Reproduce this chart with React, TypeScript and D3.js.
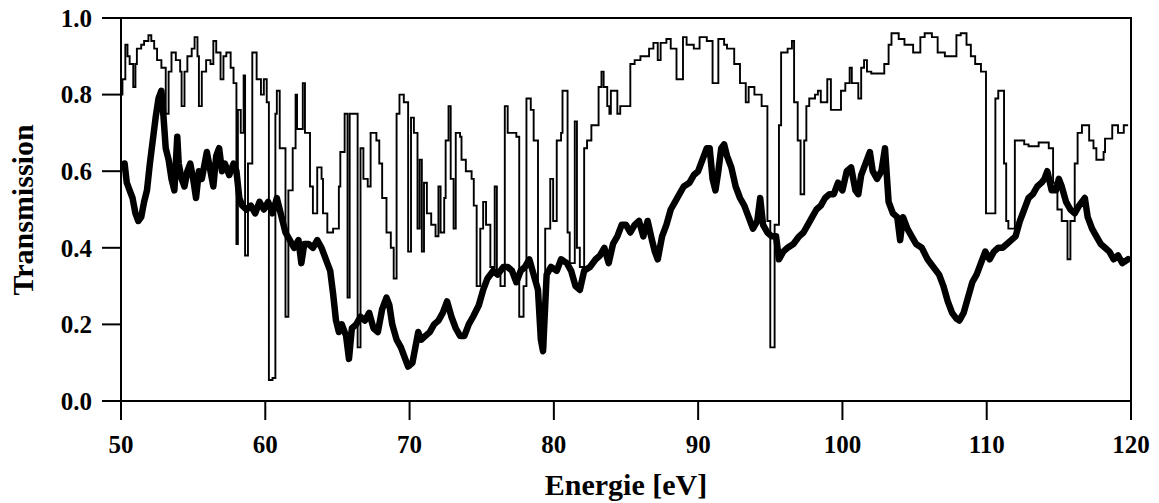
import React from "react";
import * as d3 from "d3";

const xTicks = [50, 60, 70, 80, 90, 100, 110, 120];
const yTicks = [0, 0.2, 0.4, 0.6, 0.8, 1.0];

// Thin curve (step) : energy [eV] and transmission
const thinE = [50.0,50.1,50.3,50.45,50.6,50.85,51.0,51.1,51.4,51.6,51.9,52.1,52.3,52.5,52.8,53.1,53.3,53.5,53.8,54.1,54.2,54.4,54.6,54.9,55.1,55.3,55.4,55.6,55.9,56.2,56.4,56.6,56.9,57.1,57.3,57.6,57.8,58.0,58.1,58.3,58.5,58.6,58.8,59.1,59.4,59.7,59.9,60.1,60.25,60.5,60.7,60.8,61.0,61.4,61.6,61.9,62.1,62.2,62.6,62.75,63.1,63.3,63.6,63.9,64.0,64.3,64.7,65.1,65.2,65.5,65.7,65.85,66.2,66.4,66.6,66.8,67.1,67.3,67.7,67.9,68.1,68.4,68.7,68.9,69.1,69.3,69.6,69.9,70.1,70.3,70.55,70.7,70.85,71.0,71.2,71.5,71.8,72.0,72.15,72.4,72.5,72.7,72.85,73.05,73.2,73.5,73.6,73.9,74.3,74.45,74.65,74.9,75.1,75.3,75.6,75.9,76.05,76.3,76.6,76.8,77.4,77.6,77.9,78.1,78.4,78.6,78.9,79.1,79.4,79.75,79.95,80.2,80.5,80.6,80.95,81.1,81.45,81.6,81.8,82.1,82.3,82.6,83.1,83.3,83.45,83.7,83.85,83.95,84.4,84.6,85.3,85.6,86.0,86.6,86.9,87.2,87.4,87.8,88.1,88.5,88.95,89.2,89.7,90.1,90.6,91.0,91.4,91.8,92.0,92.5,92.9,93.3,93.5,93.9,94.4,94.8,95.0,95.3,95.6,95.75,96.2,96.5,96.65,96.9,97.1,97.35,97.5,97.7,98.1,98.3,98.5,98.95,99.2,99.9,100.2,100.5,100.65,101.1,101.3,101.5,101.7,102.0,102.9,103.2,103.4,103.9,104.3,104.9,105.4,105.7,106.2,106.6,107.1,107.9,108.2,108.6,108.9,109.2,109.6,109.95,110.6,110.8,111.2,111.35,111.5,111.95,112.6,112.9,113.6,114.3,114.6,114.9,115.2,115.6,115.8,116.1,116.3,116.6,117.1,117.4,117.6,118.1,118.2,118.7,119.1,119.5,119.8];
const thinT = [0.80,0.84,0.93,0.90,0.88,0.82,0.88,0.92,0.93,0.94,0.955,0.94,0.92,0.89,0.87,0.75,0.86,0.91,0.89,0.86,0.77,0.86,0.90,0.92,0.95,0.90,0.77,0.86,0.89,0.88,0.94,0.91,0.84,0.90,0.91,0.87,0.83,0.41,0.76,0.70,0.85,0.38,0.62,0.91,0.84,0.80,0.84,0.78,0.055,0.06,0.75,0.81,0.66,0.22,0.55,0.66,0.80,0.71,0.83,0.70,0.56,0.49,0.61,0.58,0.49,0.44,0.45,0.56,0.65,0.75,0.27,0.75,0.75,0.14,0.66,0.58,0.56,0.70,0.68,0.62,0.53,0.44,0.40,0.32,0.75,0.80,0.78,0.39,0.74,0.70,0.45,0.63,0.39,0.57,0.49,0.46,0.43,0.56,0.44,0.53,0.68,0.77,0.58,0.45,0.70,0.69,0.63,0.60,0.58,0.51,0.30,0.45,0.52,0.46,0.35,0.56,0.34,0.30,0.77,0.70,0.69,0.22,0.30,0.79,0.76,0.68,0.20,0.14,0.45,0.58,0.47,0.68,0.70,0.81,0.44,0.36,0.73,0.40,0.35,0.66,0.68,0.72,0.82,0.86,0.82,0.77,0.75,0.81,0.75,0.77,0.88,0.89,0.90,0.92,0.935,0.89,0.935,0.945,0.92,0.84,0.95,0.93,0.92,0.95,0.94,0.83,0.945,0.93,0.92,0.88,0.83,0.78,0.82,0.80,0.77,0.47,0.14,0.46,0.72,0.91,0.92,0.94,0.78,0.68,0.54,0.68,0.77,0.79,0.80,0.81,0.78,0.84,0.76,0.81,0.83,0.87,0.83,0.79,0.87,0.89,0.86,0.855,0.88,0.93,0.96,0.945,0.93,0.91,0.95,0.96,0.95,0.91,0.90,0.955,0.96,0.93,0.90,0.88,0.86,0.49,0.79,0.81,0.62,0.47,0.45,0.68,0.67,0.665,0.675,0.66,0.57,0.50,0.47,0.37,0.47,0.62,0.70,0.72,0.68,0.66,0.63,0.65,0.685,0.72,0.70,0.72,0.72];

// Thick curve : energy [eV] and transmission
const thickE = [50.25,50.4,50.6,50.8,51.0,51.2,51.4,51.6,51.8,52.0,52.2,52.4,52.6,52.8,52.95,53.1,53.3,53.5,53.7,53.9,54.0,54.2,54.4,54.6,54.8,55.0,55.2,55.4,55.6,55.8,55.95,56.2,56.4,56.6,56.8,57.0,57.2,57.5,57.8,58.0,58.2,58.4,58.7,59.0,59.3,59.6,59.9,60.2,60.5,60.8,61.0,61.2,61.4,61.7,62.0,62.3,62.5,62.7,63.0,63.3,63.6,63.9,64.2,64.5,64.7,64.9,65.1,65.3,65.6,65.8,66.0,66.3,66.6,66.9,67.2,67.5,67.8,68.1,68.4,68.6,68.8,69.1,69.4,69.6,69.9,70.2,70.4,70.6,70.8,71.1,71.4,71.7,72.0,72.3,72.6,72.9,73.2,73.5,73.8,74.1,74.4,74.8,75.1,75.4,75.8,76.1,76.5,76.8,77.1,77.4,77.7,78.0,78.3,78.6,78.9,79.1,79.25,79.5,79.8,80.2,80.5,80.9,81.2,81.5,81.8,82.1,82.5,82.9,83.2,83.5,83.8,84.1,84.4,84.7,85.0,85.3,85.6,85.9,86.2,86.5,86.8,87.0,87.2,87.5,87.8,88.1,88.4,88.7,89.0,89.4,89.7,90.0,90.3,90.6,90.8,91.0,91.2,91.4,91.6,91.8,92.0,92.3,92.6,92.9,93.2,93.5,93.8,94.1,94.3,94.5,94.8,95.1,95.4,95.6,95.9,96.2,96.6,97.0,97.3,97.6,97.9,98.2,98.5,98.8,99.1,99.4,99.7,100.0,100.3,100.6,100.9,101.1,101.3,101.6,101.9,102.1,102.4,102.7,102.95,103.2,103.5,103.8,104.0,104.2,104.5,104.8,105.1,105.5,105.9,106.3,106.7,107.0,107.3,107.6,107.9,108.1,108.4,108.7,109.0,109.3,109.6,109.9,110.2,110.5,110.8,111.1,111.4,111.7,112.0,112.3,112.6,112.9,113.2,113.5,113.8,114.0,114.2,114.5,114.8,115.0,115.2,115.5,115.8,116.1,116.4,116.8,117.0,117.3,117.6,117.9,118.2,118.5,118.8,119.1,119.4,119.8];
const thickT = [0.62,0.57,0.55,0.53,0.49,0.47,0.48,0.52,0.55,0.62,0.68,0.74,0.79,0.81,0.74,0.66,0.63,0.58,0.55,0.69,0.62,0.58,0.56,0.60,0.62,0.58,0.53,0.60,0.58,0.62,0.65,0.60,0.56,0.64,0.66,0.60,0.62,0.59,0.62,0.60,0.53,0.51,0.50,0.51,0.49,0.52,0.50,0.52,0.49,0.53,0.50,0.47,0.44,0.42,0.40,0.42,0.36,0.41,0.41,0.40,0.42,0.40,0.37,0.34,0.28,0.21,0.18,0.20,0.17,0.11,0.19,0.20,0.22,0.21,0.23,0.19,0.18,0.24,0.27,0.25,0.20,0.16,0.14,0.12,0.09,0.10,0.14,0.18,0.16,0.17,0.18,0.20,0.21,0.23,0.26,0.22,0.19,0.17,0.17,0.20,0.22,0.25,0.29,0.32,0.34,0.33,0.35,0.35,0.34,0.31,0.34,0.35,0.37,0.33,0.29,0.16,0.13,0.33,0.35,0.34,0.37,0.36,0.34,0.30,0.29,0.34,0.35,0.37,0.38,0.40,0.36,0.41,0.43,0.46,0.46,0.44,0.46,0.47,0.43,0.47,0.42,0.39,0.37,0.43,0.46,0.50,0.52,0.54,0.56,0.57,0.59,0.60,0.63,0.66,0.66,0.58,0.55,0.60,0.66,0.67,0.64,0.61,0.56,0.53,0.51,0.48,0.45,0.47,0.53,0.46,0.44,0.43,0.43,0.37,0.39,0.40,0.41,0.43,0.44,0.46,0.48,0.50,0.51,0.53,0.54,0.54,0.57,0.55,0.60,0.61,0.55,0.54,0.59,0.62,0.65,0.60,0.58,0.60,0.66,0.52,0.49,0.48,0.42,0.48,0.45,0.43,0.41,0.40,0.37,0.35,0.33,0.30,0.26,0.23,0.215,0.21,0.23,0.27,0.31,0.33,0.36,0.39,0.37,0.39,0.40,0.40,0.41,0.42,0.43,0.47,0.50,0.53,0.54,0.56,0.57,0.58,0.60,0.55,0.55,0.58,0.56,0.52,0.50,0.49,0.51,0.53,0.48,0.45,0.43,0.41,0.40,0.39,0.37,0.38,0.36,0.37];

const W = 1159;
const H = 503;
const left = 121, right = 1131, top = 18, bottom = 401;
const FONT = "Liberation Serif, Times New Roman, Times, serif";

export default function App() {
  const x = d3.scaleLinear().domain([50, 120]).range([left, right]);
  const y = d3.scaleLinear().domain([0, 1]).range([bottom, top]);

  const thinData = thinE.map((e, i) => [e, thinT[i]] as [number, number]);
  const thickData = thickE.map((e, i) => [e, thickT[i]] as [number, number]);

  const thinLine = d3
    .line<[number, number]>()
    .x((d) => x(d[0]))
    .y((d) => y(d[1]))
    .curve(d3.curveStepAfter);
  const thickLine = d3
    .line<[number, number]>()
    .x((d) => x(d[0]))
    .y((d) => y(d[1]))
    .curve(d3.curveLinear);

  const tickLen = 19;
  const textStyle: React.CSSProperties = { fontFamily: FONT, fontWeight: "bold" };

  return (
    <div style={{ position: "absolute", left: 0, top: 0 }}>
      <svg width={W} height={H} style={{ display: "block", background: "#fff" }}>
        <rect x={0} y={0} width={W} height={H} fill="#fff" />
        <defs>
          <clipPath id="plotclip">
            <rect x={left} y={top} width={right - left} height={bottom - top} />
          </clipPath>
        </defs>
        <g clipPath="url(#plotclip)">
          <path d={thickLine(thickData) || ""} fill="none" stroke="#000" strokeWidth={6.5} strokeLinejoin="round" strokeLinecap="round" />
          <path d={thinLine(thinData) || ""} fill="none" stroke="#000" strokeWidth={1.9} />
        </g>
        <rect x={left} y={top} width={right - left} height={bottom - top} fill="none" stroke="#000" strokeWidth={2} />
        {yTicks.map((t) => (
          <g key={"y" + t}>
            <line x1={left - tickLen} x2={left} y1={y(t)} y2={y(t)} stroke="#000" strokeWidth={2} />
            <text x={92} y={y(t)} dy="0.35em" textAnchor="end" style={textStyle} fontSize={25}>
              {t.toFixed(1)}
            </text>
          </g>
        ))}
        {xTicks.map((t) => (
          <g key={"x" + t}>
            <line x1={x(t)} x2={x(t)} y1={bottom} y2={bottom + tickLen} stroke="#000" strokeWidth={2} />
            <text x={x(t)} y={453} textAnchor="middle" style={textStyle} fontSize={25}>
              {t}
            </text>
          </g>
        ))}
        <text x={626} y={495} textAnchor="middle" style={textStyle} fontSize={30}>
          Energie [eV]
        </text>
        <text transform={`translate(33,210) rotate(-90)`} textAnchor="middle" style={textStyle} fontSize={30}>
          Transmission
        </text>
      </svg>
    </div>
  );
}
